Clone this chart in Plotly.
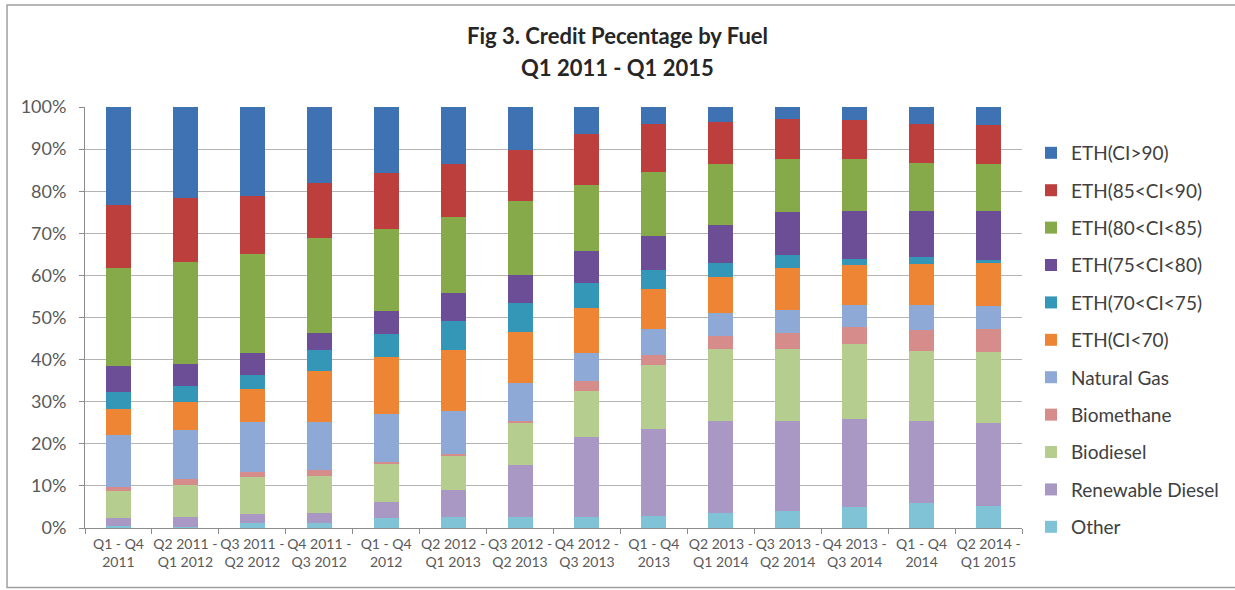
import plotly.graph_objects as go

categories = ["Q1 - Q4 2011", "Q2 2011 - Q1 2012", "Q3 2011 - Q2 2012", "Q4 2011 - Q3 2012",
              "Q1 - Q4 2012", "Q2 2012 - Q1 2013", "Q3 2012 - Q2 2013", "Q4 2012 - Q3 2013",
              "Q1 - Q4 2013", "Q2 2013 - Q1 2014", "Q3 2013 - Q2 2014", "Q4 2013 - Q3 2014",
              "Q1 - Q4 2014", "Q2 2014 - Q1 2015"]
tick_labels = ["Q1 - Q4<br>2011", "Q2 2011 -<br>Q1 2012", "Q3 2011 -<br>Q2 2012", "Q4 2011 -<br>Q3 2012",
               "Q1 - Q4<br>2012", "Q2 2012 -<br>Q1 2013", "Q3 2012 -<br>Q2 2013", "Q4 2012 -<br>Q3 2013",
               "Q1 - Q4<br>2013", "Q2 2013 -<br>Q1 2014", "Q3 2013 -<br>Q2 2014", "Q4 2013 -<br>Q3 2014",
               "Q1 - Q4<br>2014", "Q2 2014 -<br>Q1 2015"]

# series, bottom to top (percent of credits)
other = [0.4, 0.3, 1.2, 1.2, 2.4, 2.5, 2.5, 2.5, 2.8, 3.6, 4.0, 5.1, 5.9, 5.3]
renewable_diesel = [2.0, 2.2, 2.2, 2.4, 3.9, 6.6, 12.5, 19.1, 20.7, 21.9, 21.3, 20.7, 19.4, 19.6]
biodiesel = [6.3, 7.8, 8.7, 8.8, 9.0, 8.1, 10.0, 11.0, 15.2, 17.0, 17.2, 17.9, 16.8, 17.0]
biomethane = [1.0, 1.3, 1.3, 1.4, 0.4, 0.4, 0.3, 2.4, 2.4, 3.0, 3.9, 4.1, 4.9, 5.3]
natural_gas = [12.4, 11.7, 11.7, 11.3, 11.5, 10.3, 9.1, 6.5, 6.1, 5.6, 5.4, 5.2, 6.0, 5.5]
eth_lt70 = [6.1, 6.7, 7.9, 12.1, 13.4, 14.4, 12.2, 10.7, 9.6, 8.6, 10.0, 9.5, 9.7, 10.3]
eth_70_75 = [4.2, 3.8, 3.4, 5.1, 5.6, 6.9, 6.8, 5.9, 4.5, 3.3, 3.0, 1.5, 1.7, 0.6]
eth_75_80 = [6.1, 5.2, 5.1, 4.1, 5.3, 6.7, 6.7, 7.7, 8.1, 8.9, 10.3, 11.3, 10.9, 11.7]
eth_80_85 = [23.2, 24.2, 23.6, 22.4, 19.7, 18.0, 17.6, 15.6, 15.2, 14.5, 12.6, 12.4, 11.4, 11.1]
eth_85_90 = [15.0, 15.3, 13.7, 13.2, 13.2, 12.5, 12.2, 12.3, 11.4, 10.0, 9.5, 9.1, 9.2, 9.3]
eth_gt90 = [23.3, 21.5, 21.2, 18.0, 15.7, 13.6, 10.1, 6.3, 4.0, 3.6, 2.8, 3.2, 4.1, 4.3]

series_names = ["Other", "Renewable Diesel", "Biodiesel", "Biomethane", "Natural Gas",
                "ETH(CI<70)", "ETH(70<CI<75)", "ETH(75<CI<80)", "ETH(80<CI<85)",
                "ETH(85<CI<90)", "ETH(CI>90)"]
series_values = [other, renewable_diesel, biodiesel, biomethane, natural_gas,
                 eth_lt70, eth_70_75, eth_75_80, eth_80_85, eth_85_90, eth_gt90]
series_colors = ["#80C2D6", "#A898C3", "#B5CE8F", "#D78C8C", "#8EA9D6",
                 "#EE8534", "#3497B8", "#6C4E96", "#86A94A", "#BC3F3D", "#3F72B3"]

fig = go.Figure()
n = len(series_names)
for i, (name, vals, col) in enumerate(zip(series_names, series_values, series_colors)):
    fig.add_trace(go.Bar(x=categories, y=vals, name=name, legendgroup=name,
                         legendrank=n - i,
                         marker=dict(color=col, line=dict(width=0))))

font_family = "Lato, 'Open Sans', sans-serif"
W, H = 1235, 590
L, R, T, B = 85, 212.5, 107, 61.5
PH = H - T - B
PW = W - L - R


def py(px):
    return (H - B - px) / PH


def pxx(px):
    return (px - L) / PW


fig.update_layout(
    barmode="stack",
    barnorm="percent",
    bargap=0.626,
    width=W, height=H,
    margin=dict(l=L, r=R, t=T, b=B, autoexpand=False),
    paper_bgcolor="white", plot_bgcolor="white",
    font=dict(family=font_family, color="#595959"),
    title=dict(text="<b>Fig 3. Credit Pecentage by Fuel</b>", x=0.5, xref="container",
               xanchor="center", y=1 - 36 / H, yref="container", yanchor="middle",
               font=dict(size=22, color="#262626", family=font_family)),
    annotations=[dict(text="<b>Q1 2011 - Q1 2015</b>", xref="paper", yref="paper",
                      x=pxx(617.5), y=py(67), xanchor="center",
                      yanchor="middle", showarrow=False,
                      font=dict(size=22, color="#262626", family=font_family))],
    legend=dict(traceorder="grouped", tracegroupgap=9.7, x=pxx(1031.5), xanchor="left",
                y=py(134), yanchor="top", font=dict(size=19, color="#404040"),
                bgcolor="rgba(0,0,0,0)"),
    showlegend=True,
    shapes=[dict(type="rect", xref="paper", yref="paper",
                 x0=pxx(7), x1=pxx(1245), y0=py(588), y1=py(5),
                 line=dict(color="#A0A0A0", width=1.5), fillcolor="rgba(0,0,0,0)", layer="below")],
)
fig.update_xaxes(tickvals=categories, ticktext=tick_labels, tickson="boundaries",
                 tickangle=0, automargin=False, ticklabelstandoff=3,
                 ticks="outside", ticklen=5, tickcolor="#8C8C8C",
                 showline=True, linecolor="#8C8C8C", linewidth=1,
                 tickfont=dict(size=14, color="#595959"), showgrid=False)
fig.update_yaxes(range=[0, 100], dtick=10, ticksuffix="%", ticks="outside", ticklen=5,
                 automargin=False,
                 tickcolor="#8C8C8C", showline=True, linecolor="#8C8C8C", linewidth=1,
                 gridcolor="#B4B4B4", gridwidth=1, zeroline=False,
                 tickfont=dict(size=18, color="#595959"), ticklabelstandoff=9)

fig.write_html("out.html", config={"displayModeBar": False},
               post_script="document.body.style.margin='0px';")
